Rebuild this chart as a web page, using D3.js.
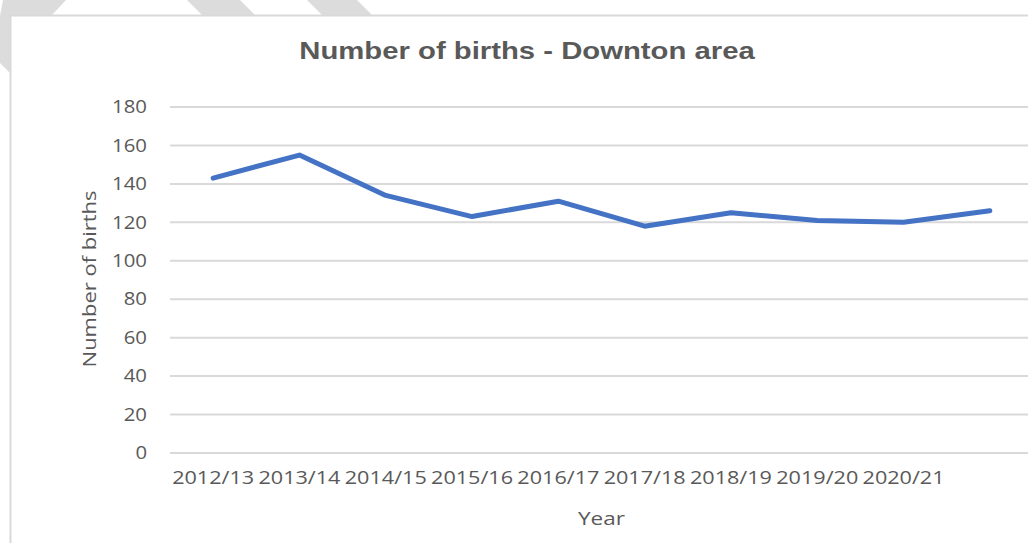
<!DOCTYPE html>
<html>
<head>
<meta charset="utf-8">
<script src="https://cdn.jsdelivr.net/npm/d3@7"></script>
<style>
  body { margin: 0; background: #fff; }
  svg { display: block; }
</style>
</head>
<body>
<div id="chart"></div>
<script>
// data
let years = ["2012/13", "2013/14", "2014/15", "2015/16", "2016/17",
  "2017/18", "2018/19", "2019/20", "2020/21", ""]
let births = [143, 155, 134, 123, 131, 118, 125, 121, 120, 126]
let yTicks = [0, 20, 40, 60, 80, 100, 120, 140, 160, 180]

let W = 1028, H = 543
let margin = { top: 107, right: -5, bottom: 90, left: 170 }
let width = W - margin.left - margin.right,
  height = H - margin.top - margin.bottom

// text in the picture is a bit wider than the font, stretch it
function stretch(sel, k) {
  sel.each(function () {
    let len = this.getComputedTextLength()
    if (len > 0) {
      d3.select(this)
        .attr("textLength", len * k)
        .attr("lengthAdjust", "spacingAndGlyphs")
    }
  })
}

let root = d3.select("#chart")
  .append("svg")
  .attr("width", W)
  .attr("height", H)

// grey stripes behind the card
let stripes = root.append("g").attr("fill", "#dcdcdc")
stripes.append("polygon").attr("points", "3,0 66,0 51,16 10,16 10,73 0,63 0,16")
stripes.append("polygon").attr("points", "187,0 240,0 256,16 203,16")
stripes.append("polygon").attr("points", "307,0 357,0 373,16 323,16")

// card
root.append("rect")
  .attr("x", 10.5).attr("y", 15.5)
  .attr("width", W).attr("height", H)
  .attr("fill", "#fff")
  .attr("stroke", "#d9d9d9")
  .attr("stroke-width", 2)

let svg = root.append("g")
  .attr("transform", "translate(" + margin.left + "," + margin.top + ")")

let x = d3.scaleBand()
  .domain(years)
  .range([0, width])

let y = d3.scaleLinear()
  .domain([0, 180])
  .range([height, 0])

// gridlines
svg.append("g")
  .selectAll("line")
  .data(yTicks)
  .join("line")
  .attr("x1", 0)
  .attr("x2", W)
  .attr("y1", d => y(d))
  .attr("y2", d => y(d))
  .attr("stroke", "#d9d9d9")
  .attr("stroke-width", 2)

let tickFont = "'Open Sans', sans-serif"

let yAxis = svg.append("g")
  .call(d3.axisLeft(y).tickValues(yTicks).tickSize(0).tickPadding(23))
yAxis.select(".domain").remove()
yAxis.selectAll("text")
  .style("font-family", tickFont)
  .style("font-size", "18px")
  .attr("fill", "#595959")
  .call(stretch, 1.13)

let xAxis = svg.append("g")
  .attr("transform", "translate(0," + height + ")")
  .call(d3.axisBottom(x).tickSize(0).tickPadding(18))
xAxis.select(".domain").remove()
xAxis.selectAll("text")
  .style("font-family", tickFont)
  .style("font-size", "18px")
  .attr("fill", "#595959")
  .call(stretch, 1.2)

svg.append("path")
  .datum(births)
  .attr("d", d3.line()
    .x((d, i) => { return x(years[i]) + x.bandwidth() / 2 })
    .y(d => { return y(d) }))
  .attr("stroke", "#4472c4")
  .attr("stroke-width", 5)
  .attr("stroke-linejoin", "round")
  .attr("stroke-linecap", "round")
  .style("fill", "none")

// titles
root.append("text")
  .attr("x", 527)
  .attr("y", 59)
  .attr("text-anchor", "middle")
  .style("font-family", "'Liberation Sans', Arial, sans-serif")
  .style("font-weight", "bold")
  .style("font-size", "24px")
  .attr("fill", "#595959")
  .text("Number of births - Downton area")
  .call(stretch, 1.22)

root.append("text")
  .attr("x", margin.left + width / 2)
  .attr("y", 525)
  .attr("text-anchor", "middle")
  .style("font-family", tickFont)
  .style("font-size", "18px")
  .attr("fill", "#595959")
  .text("Year")
  .call(stretch, 1.25)

root.append("text")
  .attr("transform", "translate(96,279) rotate(-90)")
  .attr("text-anchor", "middle")
  .style("font-family", tickFont)
  .style("font-size", "18px")
  .attr("fill", "#595959")
  .text("Number of births")
  .call(stretch, 1.22)
</script>
</body>
</html>
